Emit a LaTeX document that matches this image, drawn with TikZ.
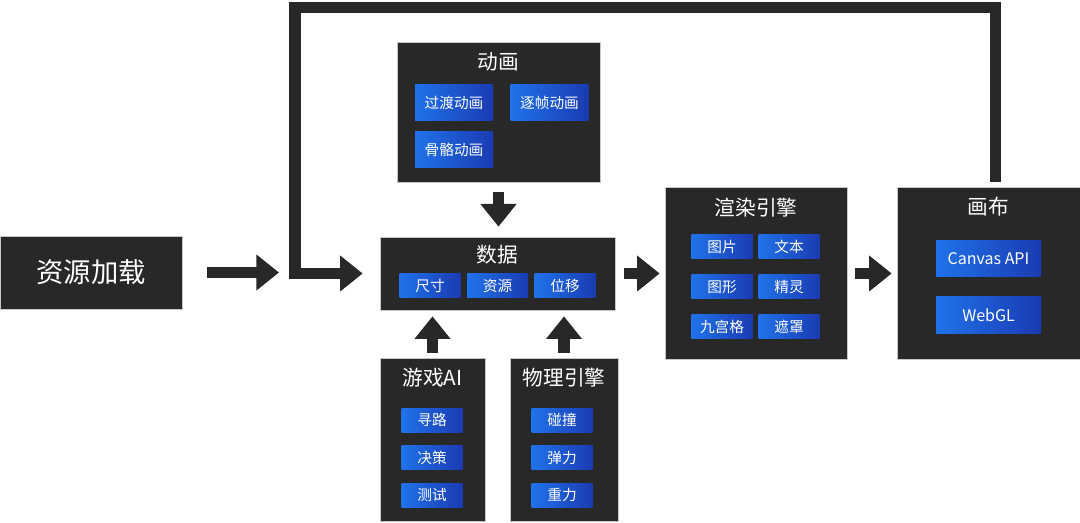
\documentclass[tikz,border=0pt]{standalone}
\usepackage{fontspec}
\setmainfont{Noto Sans CJK SC}
\usetikzlibrary{arrows.meta,positioning}
\definecolor{panelgray}{HTML}{282828}
\definecolor{itemblue}{HTML}{2072EA}
\definecolor{itemdeep}{HTML}{1A3BB2}

\begin{document}
\begin{tikzpicture}[x=0.75pt,y=-0.75pt,
  panel/.style={fill=panelgray,draw=gray!45,line width=.5pt,inner sep=0pt},
  title/.style={text=white,font=\fontsize{15.5}{17}\selectfont},
  item/.style={shade,left color=itemblue,right color=itemdeep,text=white,inner sep=0pt,
    font=\fontsize{11}{13}\selectfont,minimum width=45.75pt,minimum height=18pt},
  bigitem/.style={item,minimum width=58.5pt,minimum height=27pt},
  apiitem/.style={item,font=\fontsize{12}{14}\selectfont,minimum width=78.75pt,minimum height=27.5pt},
  flow/.style={draw=panelgray,line width=8.5pt,line join=miter,-{Triangle[width=26pt,length=17pt]}}]
\useasboundingbox (0,0) rectangle (1080,523);

% panels
\node[panel,minimum width=136.5pt,minimum height=54.75pt] (load) at (91,272.5) {};
\node[text=white,font=\fontsize{20.5}{24}\selectfont] at (load) {资源加载};
\node[panel,minimum width=176.25pt,minimum height=54.75pt] (data) at (497.5,273.5) {};
\node[panel,minimum width=152.25pt,minimum height=105pt] (anim) at (498.5,112) {};
\node[panel,minimum width=78.75pt,minimum height=122.25pt] (ai) at (432.5,439.5) {};
\node[panel,minimum width=81pt,minimum height=122.25pt] (phys) at (564,439.5) {};
\node[panel,minimum width=136.5pt,minimum height=129pt] (render) at (756,273.5) {};
\node[panel,minimum width=137.25pt,minimum height=129pt] (canvas) at (988.5,273.5) {};

% titles
\node[title] at (497.5,255) {数据};
\node[title] at (498.5,62) {动画};
\node[title] at (432.5,378) {游戏AI};
\node[title] at (564,378) {物理引擎};
\node[title] at (756,208) {渲染引擎};
\node[title] at (988.5,207) {画布};

% items
\node[item] (size) at (430,285.5) {尺寸};
\node[item,right=4.5pt of size] (res) {资源};
\node[item,right=4.5pt of res] (move) {位移};

\node[bigitem] (tween) at (454,103) {过渡动画};
\node[bigitem,right=12.75pt of tween] (frame) {逐帧动画};
\node[bigitem,below=7.5pt of tween] (bone) {骨骼动画};

\node[item] (path) at (432,420) {寻路};
\node[item,below=9.75pt of path] (decide) {决策};
\node[item,below=9.75pt of decide] (test) {测试};

\node[item] (hit) at (562,420) {碰撞};
\node[item,below=9.75pt of hit] (bounce) {弹力};
\node[item,below=9.75pt of bounce] (grav) {重力};

\node[item] (img) at (722,246.5) {图片};
\node[item,below=11.75pt of img] (shape) {图形};
\node[item,below=11.75pt of shape] (grid) {九宫格};
\node[item] (txt) at (789,246.5) {文本};
\node[item,below=11.75pt of txt] (sprite) {精灵};
\node[item,below=11.75pt of sprite] (mask) {遮罩};

\node[apiitem] (api) at (988.5,258.5) {Canvas API};
\node[apiitem,below=14.5pt of api] (gl) {WebGL};

% arrows
\coordinate (jn) at (295,272.5);
\coordinate (up) at (995.5,182);
\coordinate (top) at (295,7.5);
\draw[flow,shorten <=18.75pt,shorten >=12pt] (load) -- (jn);
\draw[flow,shorten >=12.75pt] (up) |- (top) |- (data.west);
\draw[flow,shorten <=7.5pt,shorten >=7.5pt] (anim.south) -- (anim.south |- data.north);
\draw[flow,shorten <=3.75pt,shorten >=4.5pt] (ai.north) -- (ai.north |- data.south);
\draw[flow,shorten <=3.75pt,shorten >=4.5pt] (phys.north) -- (phys.north |- data.south);
\draw[flow,shorten <=6.75pt,shorten >=3.75pt] (data) -- (render);
\draw[flow,shorten <=6pt,shorten >=3.75pt] (render) -- (canvas);
\end{tikzpicture}
\end{document}
